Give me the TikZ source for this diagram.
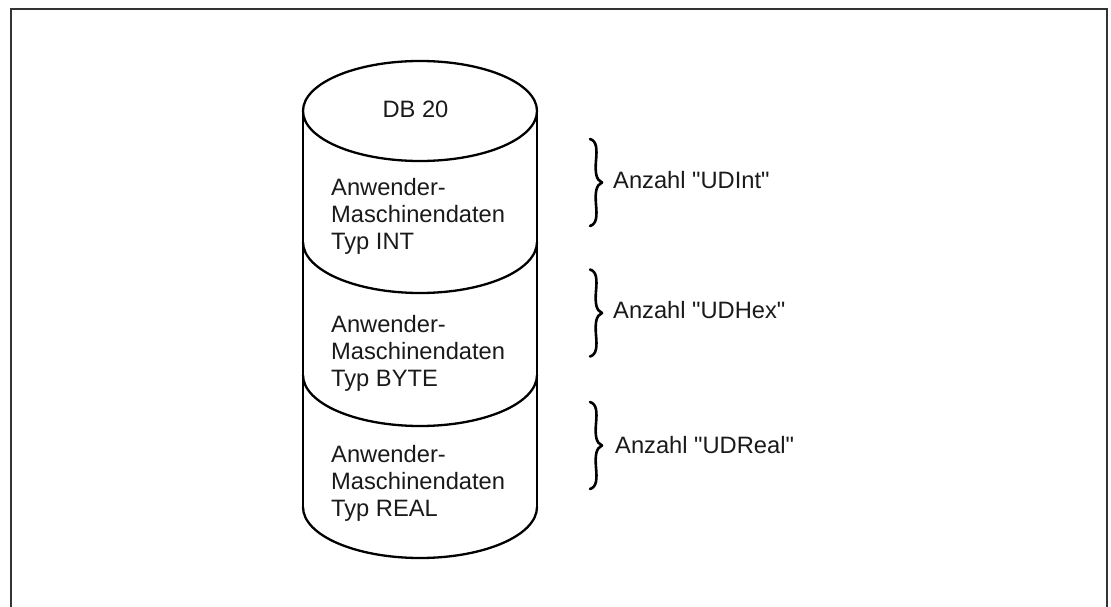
\documentclass[tikz,border=0pt]{standalone}
\usepackage{fontspec}
\setmainfont{Liberation Sans}
\definecolor{ink}{HTML}{1A1A1A}
\definecolor{framegray}{HTML}{333333}
\tikzset{
  label text/.style={font=\fontsize{23.7}{26.7}\selectfont, text=ink, inner sep=0pt, align=left, anchor=base west},
  db outline/.style={draw=black, line width=2.3pt},
  brace stroke/.style={draw=black, line width=2.6pt, line cap=round, line join=round},
  % curly brace pointing right, origin at the middle of its back
  pics/countbrace/.style={code={
    \draw[brace stroke] (0,-43.5)
      .. controls (7,-41.5) and (7,-33) .. (6,-22)
      .. controls (5,-10) and (6,-2.5) .. (12,0)
      .. controls (6,2.5) and (5,10) .. (6,22)
      .. controls (7,33) and (7,41.5) .. (0,43.5);
  }},
}
\begin{document}
\begin{tikzpicture}[x=1pt, y=-1pt]
  \useasboundingbox (0,0) rectangle (1111,607);
  % outer frame (runs past the lower edge)
  \draw[framegray, line width=2pt] (11,9) rectangle (1107,640);

  % data block cylinder
  \draw[db outline] (420,111) ellipse [x radius=117, y radius=50];
  \draw[db outline] (303,111) -- (303,507);
  \draw[db outline] (537,111) -- (537,507);
  % lower half-ellipses separating the sections
  \foreach \c in {242,375,507}
    \draw[db outline] (303,\c)
      .. controls (303,\c+28.2) and (355.4,\c+51) .. (420,\c+51)
      .. controls (484.6,\c+51) and (537,\c+28.2) .. (537,\c);

  % texts inside the cylinder (base anchor sits on the last line)
  \node[label text, anchor=base] (db) at (415.5,118) {DB 20};
  \node[label text] (secint) at (331,249) {Anwender-\\Maschinendaten\\Typ INT};
  \node[label text] (secbyte) at (331,386) {Anwender-\\Maschinendaten\\Typ BYTE};
  \node[label text] (secreal) at (331,516) {Anwender-\\Maschinendaten\\Typ REAL};

  % braces with counts
  \pic at (590,182.5) {countbrace};
  \pic at (590,313) {countbrace};
  \pic at (590,445.5) {countbrace};

  \node[label text] (nint) at (613,188) {Anzahl \textquotedbl UDInt\textquotedbl};
  \node[label text] (nhex) at (613,318) {Anzahl \textquotedbl UDHex\textquotedbl};
  \node[label text] (nreal) at (615,453) {Anzahl \textquotedbl UDReal\textquotedbl};
\end{tikzpicture}
\end{document}
